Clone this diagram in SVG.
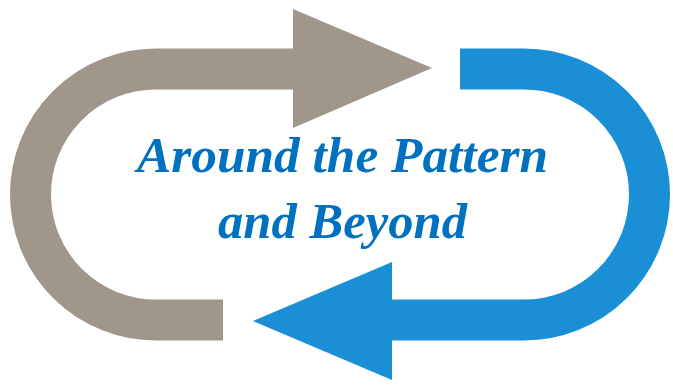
<svg xmlns="http://www.w3.org/2000/svg" width="673" height="385" viewBox="0 0 673 385">
  <style>
    .gray { fill: none; stroke: #A0968A; stroke-width: 41; stroke-linecap: butt; }
    .grayhead { fill: #A0968A; }
    .blue { fill: none; stroke: #1B8FD6; stroke-width: 41; stroke-linecap: butt; }
    .bluehead { fill: #1B8FD6; }
    .title { font-family: "Liberation Serif", "Times New Roman", serif; font-weight: bold; font-style: italic; font-size: 50px; fill: #0070C0; }
  </style>
  <rect width="673" height="385" fill="#ffffff"/>
  <g id="connectors">
    <g id="gray-arrow">
      <path class="gray" d="M 294 69 H 156 A 125.5 125.5 0 0 0 156 320 H 223"/>
      <polygon class="grayhead" points="293,9 432,68 293,128"/>
    </g>
    <g id="blue-arrow">
      <path class="blue" d="M 460 69 H 524 A 125.5 125.5 0 0 1 524 320 H 391"/>
      <polygon class="bluehead" points="392,262 253,321 392,380"/>
    </g>
  </g>
  <g id="label">
    <text class="title" x="137" y="172" textLength="411" lengthAdjust="spacingAndGlyphs">Around the Pattern</text>
    <text class="title" x="218" y="238" textLength="249" lengthAdjust="spacingAndGlyphs">and Beyond</text>
  </g>
</svg>
